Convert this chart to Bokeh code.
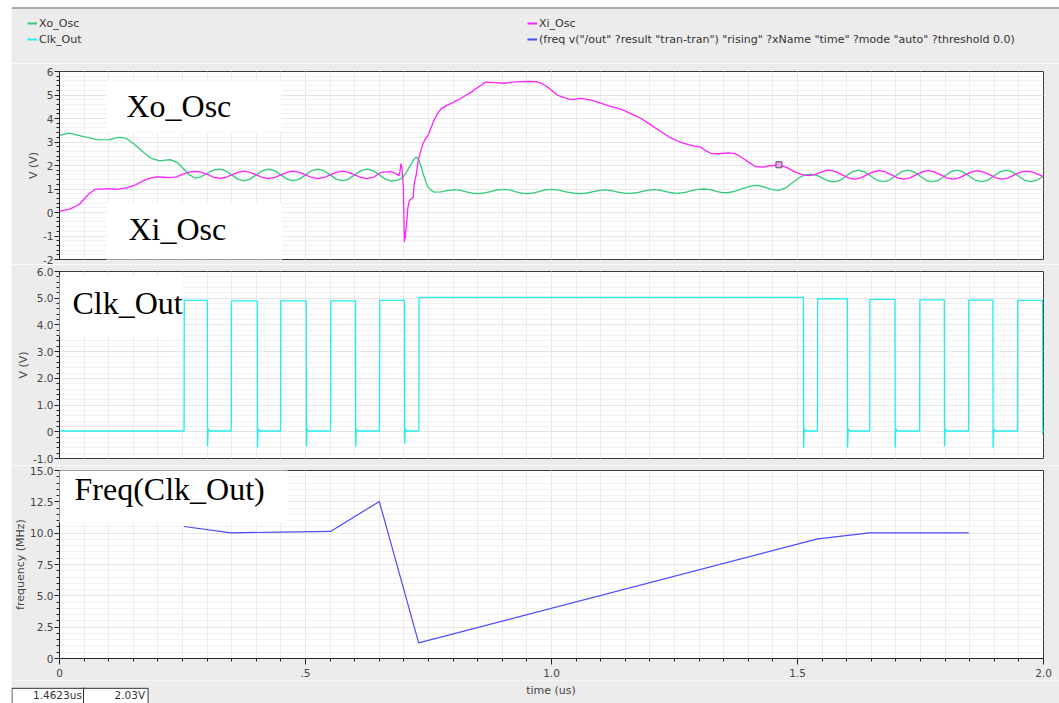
from bokeh.plotting import figure
from bokeh.layouts import column, row
from bokeh.models import Range1d, FixedTicker, Legend, LegendItem, Label, Span, Spacer
from bokeh.embed import file_html
from bokeh.resources import INLINE

# ---------------- data ----------------
# Xo_Osc (green), time in us, volts
xo_t = [0.000, 0.020, 0.045, 0.079, 0.100, 0.120, 0.136, 0.152, 0.171, 0.187, 0.203, 0.225,
        0.240, 0.251, 0.263, 0.276, 0.288, 0.300, 0.313,
        0.325, 0.3375, 0.350, 0.3625, 0.375, 0.3875, 0.400, 0.4125,
        0.425, 0.4375, 0.450, 0.4625, 0.475, 0.4875, 0.500, 0.5125,
        0.525, 0.5375, 0.550, 0.5625, 0.575, 0.5875, 0.600, 0.6125,
        0.625, 0.6375, 0.650, 0.6625, 0.675, 0.688, 0.698, 0.705, 0.711, 0.717, 0.723, 0.727,
        0.731, 0.735, 0.739, 0.744, 0.749, 0.755, 0.761, 0.775, 0.790, 0.802, 0.815, 0.827,
        0.840, 0.851, 0.865, 0.878, 0.891, 0.904, 0.916, 0.928, 0.940, 0.952, 0.964, 0.976,
        0.988, 0.999, 1.014, 1.030, 1.045, 1.060, 1.072, 1.085, 1.098, 1.110, 1.122, 1.135,
        1.148, 1.160, 1.172, 1.185, 1.198, 1.210, 1.222, 1.235, 1.248, 1.260, 1.272, 1.285,
        1.298, 1.310, 1.322, 1.335, 1.347, 1.358, 1.372, 1.388, 1.404, 1.419, 1.433, 1.447,
        1.462, 1.476, 1.492, 1.507, 1.517, 1.527, 1.540, 1.552, 1.563,
        1.574, 1.5865, 1.599, 1.6115, 1.624, 1.6365, 1.649, 1.6615,
        1.674, 1.6865, 1.699, 1.7115, 1.724, 1.7365, 1.749, 1.7615,
        1.774, 1.7865, 1.799, 1.8115, 1.824, 1.8365, 1.849, 1.8615,
        1.874, 1.8865, 1.899, 1.9115, 1.924, 1.9365, 1.949, 1.9615,
        1.974, 1.9865, 2.000]
xo_v = [3.28, 3.38, 3.25, 3.09, 3.10, 3.20, 3.15, 2.90, 2.55, 2.30, 2.20, 2.25,
        2.12, 1.88, 1.62, 1.46, 1.52, 1.66, 1.80,
        1.85, 1.78, 1.60, 1.42, 1.35, 1.42, 1.60, 1.78,
        1.85, 1.78, 1.60, 1.42, 1.35, 1.42, 1.60, 1.78,
        1.85, 1.78, 1.60, 1.42, 1.35, 1.42, 1.60, 1.78,
        1.85, 1.78, 1.60, 1.42, 1.34, 1.38, 1.49, 1.70, 1.93, 2.15, 2.33, 2.35,
        2.20, 1.95, 1.65, 1.35, 1.08, 0.95, 0.87, 0.88, 0.94, 0.97, 0.94, 0.88,
        0.82, 0.80, 0.83, 0.90, 0.96, 0.98, 0.95, 0.88, 0.82, 0.80, 0.83, 0.90,
        0.96, 0.98, 0.95, 0.88, 0.82, 0.80, 0.83, 0.89, 0.94, 0.96, 0.93, 0.87,
        0.82, 0.81, 0.84, 0.90, 0.95, 0.97, 0.94, 0.88, 0.83, 0.82, 0.86, 0.93,
        0.98, 1.00, 0.97, 0.90, 0.85, 0.84, 0.90, 1.02, 1.12, 1.15, 1.08, 0.98,
        0.94, 1.05, 1.30, 1.53, 1.60, 1.63, 1.58, 1.45, 1.34,
        1.30, 1.37, 1.55, 1.73, 1.80, 1.73, 1.55, 1.37,
        1.31, 1.37, 1.55, 1.73, 1.80, 1.73, 1.55, 1.37,
        1.31, 1.37, 1.55, 1.73, 1.80, 1.73, 1.55, 1.37,
        1.31, 1.37, 1.55, 1.73, 1.80, 1.73, 1.55, 1.37,
        1.31, 1.37, 1.55]

# Xi_Osc (magenta)
xi_t = [0.000, 0.020, 0.040, 0.060, 0.072, 0.100, 0.116, 0.136, 0.152, 0.166, 0.182, 0.197,
        0.212, 0.225, 0.238, 0.251, 0.263, 0.276, 0.288, 0.300, 0.313, 0.325,
        0.3375, 0.350, 0.3625, 0.375, 0.3875, 0.400, 0.4125, 0.425,
        0.4375, 0.450, 0.4625, 0.475, 0.4875, 0.500, 0.5125, 0.525,
        0.5375, 0.550, 0.5625, 0.575, 0.5875, 0.600, 0.6125, 0.625,
        0.6375, 0.654, 0.674, 0.684, 0.690, 0.692, 0.694, 0.696, 0.699, 0.701, 0.702, 0.703,
        0.704, 0.705, 0.708, 0.711, 0.719, 0.721, 0.725, 0.729, 0.734, 0.739, 0.744, 0.749,
        0.755, 0.761, 0.768, 0.776, 0.786, 0.796, 0.806, 0.816, 0.827, 0.837, 0.844, 0.851,
        0.859, 0.867, 0.885, 0.904, 0.920, 0.938, 0.955, 0.969, 0.981, 0.993, 1.003, 1.013,
        1.027, 1.040, 1.050, 1.060, 1.080, 1.100, 1.120, 1.141, 1.160, 1.182, 1.200, 1.222,
        1.240, 1.263, 1.285, 1.304, 1.314, 1.324, 1.340, 1.358, 1.370, 1.379, 1.395, 1.415,
        1.430, 1.446, 1.462, 1.480, 1.495, 1.511, 1.522, 1.534, 1.546, 1.556, 1.566,
        1.5785, 1.591, 1.6035, 1.616, 1.6285, 1.641, 1.6535, 1.666,
        1.6785, 1.691, 1.7035, 1.716, 1.7285, 1.741, 1.7535, 1.766,
        1.7785, 1.791, 1.8035, 1.816, 1.8285, 1.841, 1.8535, 1.866,
        1.8785, 1.891, 1.9035, 1.916, 1.9285, 1.941, 1.9535, 1.966,
        1.9785, 1.991, 2.000]
xi_v = [0.06, 0.13, 0.34, 0.80, 0.98, 1.02, 0.98, 1.05, 1.15, 1.30, 1.45, 1.52,
        1.50, 1.48, 1.52, 1.63, 1.72, 1.75, 1.72, 1.63, 1.50, 1.45,
        1.49, 1.60, 1.71, 1.76, 1.71, 1.60, 1.49, 1.44,
        1.49, 1.60, 1.71, 1.76, 1.71, 1.60, 1.49, 1.44,
        1.49, 1.60, 1.71, 1.76, 1.71, 1.60, 1.49, 1.44,
        1.49, 1.71, 1.74, 1.65, 1.57, 1.75, 2.08, 1.90, 1.00, -1.26, -0.80, -1.10,
        -0.70, -0.63, 0.20, 0.51, 0.65, 1.23, 1.60, 2.21, 2.60, 2.94, 3.15, 3.28,
        3.60, 3.91, 4.20, 4.42, 4.55, 4.64, 4.75, 4.85, 5.00, 5.12, 5.24, 5.33,
        5.45, 5.55, 5.53, 5.50, 5.55, 5.57, 5.58, 5.57, 5.48, 5.33, 5.15, 4.98,
        4.88, 4.80, 4.82, 4.86, 4.78, 4.65, 4.52, 4.40, 4.22, 4.00, 3.75, 3.45,
        3.20, 2.98, 2.85, 2.78, 2.62, 2.52, 2.50, 2.54, 2.52, 2.45, 2.22, 1.95,
        1.93, 1.99, 2.03, 1.90, 1.72, 1.60, 1.57, 1.60, 1.70, 1.78, 1.80,
        1.73, 1.60, 1.47, 1.42, 1.47, 1.60, 1.73, 1.78,
        1.73, 1.60, 1.47, 1.42, 1.47, 1.60, 1.73, 1.78,
        1.73, 1.60, 1.47, 1.42, 1.47, 1.60, 1.73, 1.77,
        1.72, 1.60, 1.47, 1.42, 1.47, 1.60, 1.72, 1.76,
        1.72, 1.60, 1.53]

# Clk_Out edges (us) and levels (V)
clk_rise = [0.2532, 0.3492, 0.4493, 0.5509, 0.6504, 0.7304, 1.5405, 1.6467, 1.7482, 1.8477, 1.9472]
clk_fall = [0.3005, 0.4020, 0.5015, 0.6016, 0.7011, 1.5121, 1.6014, 1.6981, 1.7984, 1.8971, 1.9980]
clk_high = [4.92, 4.90, 4.90, 4.90, 4.92, 5.03, 4.98, 4.96, 4.94, 4.93, 4.92]
clk_under = [-0.55, -0.60, -0.55, -0.55, -0.45, -0.60, -0.60, -0.60, -0.55, -0.60, -0.10]
clk_low = 0.03

# frequency of Clk_Out (MHz)
freq_t = [0.253, 0.349, 0.449, 0.551, 0.650, 0.730, 1.541, 1.647, 1.748, 1.848]
freq_v = [10.53, 10.03, 10.08, 10.14, 12.53, 1.25, 9.55, 10.02, 10.02, 10.02]

# cursor readout
cursor_t = [1.4623]
cursor_v = [2.03]

# axis ticks / labels
x_ticks = [0, 0.5, 1.0, 1.5, 2.0]
x_labels = ["0", ".5", "1.0", "1.5", "2.0"]
y1_ticks = [-2, -1, 0, 1, 2, 3, 4, 5, 6]
y1_labels = ["-2", "-1", "0", "1", "2", "3", "4", "5", "6"]
y2_ticks = [-1, 0, 1, 2, 3, 4, 5, 6]
y2_labels = ["-1.0", "0", "1.0", "2.0", "3.0", "4.0", "5.0", "6.0"]
y3_ticks = [0, 2.5, 5, 7.5, 10, 12.5, 15]
y3_labels = ["0", "2.5", "5.0", "7.5", "10.0", "12.5", "15.0"]

# ---------------- clock waveform built from its edges ----------------
clk_t = [0.0]
clk_v = [clk_low]
for r, f, h, u in zip(clk_rise, clk_fall, clk_high, clk_under):
    clk_t += [r, r + 0.0004, f, f + 0.0004, f + 0.0016, f + 0.004]
    clk_v += [clk_low, h, h, u, 0.12, clk_low]
pairs = [(t, v) for t, v in zip(clk_t, clk_v) if t <= 2.0]
clk_t = [p[0] for p in pairs]
clk_v = [p[1] for p in pairs]

# ---------------- styling ----------------
BG = "#ececec"
XO_C = "#33cc77"
XI_C = "#ff22ff"
CLK_C = "#22eeee"
FREQ_C = "#4b4bff"
FONT = "DejaVu Sans"
SERIF = "Liberation Serif"
W = 1048
LEFT = 47
RIGHT = 16
PX_PER_US = 985 / 2.0

xr = Range1d(0, 2)
x_minor = [round(0.05 * i, 2) for i in range(41)]


def style(p, yt, ylab, yminor, ylabel):
    p.background_fill_color = "white"
    p.border_fill_color = BG
    p.outline_line_color = "#3a3a3a"
    p.outline_line_width = 1
    p.yaxis.ticker = FixedTicker(ticks=yt, minor_ticks=yminor)
    p.yaxis.major_label_overrides = {t: l for t, l in zip(yt, ylab)}
    p.yaxis.axis_label = ylabel
    for ax in p.axis:
        ax.axis_line_color = "#222222"
        ax.major_tick_line_color = "#222222"
        ax.minor_tick_line_color = "#222222"
        ax.major_tick_in = 0
        ax.major_tick_out = 5
        ax.minor_tick_in = 0
        ax.minor_tick_out = 3
        ax.major_label_text_font = FONT
        ax.major_label_text_font_size = "10.5px"
        ax.major_label_text_color = "#444444"
        ax.major_label_standoff = 1
        ax.axis_label_text_font = FONT
        ax.axis_label_text_font_size = "11px"
        ax.axis_label_text_font_style = "normal"
        ax.axis_label_text_color = "#444444"
        ax.axis_label_standoff = 0
    xg = p.xgrid[0]
    xg.ticker = FixedTicker(ticks=x_ticks, minor_ticks=x_minor)
    xg.grid_line_color = "#e6e6e6"
    xg.minor_grid_line_color = "#ececec"
    yg = p.ygrid[0]
    yg.ticker = FixedTicker(ticks=yt, minor_ticks=yminor)
    yg.grid_line_color = "#e6e6e6"
    yg.minor_grid_line_color = "#f1f1f1"


def big_label(p, x, y, text, pad):
    p.add_layout(Label(x=x, y=y, text=text, text_font=SERIF, text_font_size="32px",
                       text_color="black", anchor="top_left",
                       background_fill_color="white", padding=pad))


# header with legends (kept out of the plots' frame alignment)
hdr = figure(width=W, height=56, x_range=Range1d(0, 1), y_range=Range1d(0, 1),
             output_backend="svg", toolbar_location=None, min_border=0,
             x_axis_location=None, y_axis_location=None)
hdr.background_fill_color = BG
hdr.border_fill_color = BG
hdr.outline_line_color = None
hdr.grid.visible = False
hdr.add_layout(Span(location=1, dimension="width", line_color="#666666", line_width=2))
off = [-5, -4]
r_xo = hdr.line(off, off, line_color=XO_C, line_width=2)
r_clk = hdr.line(off, off, line_color=CLK_C, line_width=2)
r_xi = hdr.line(off, off, line_color=XI_C, line_width=2)
r_fq = hdr.line(off, off, line_color=FREQ_C, line_width=2)
leg_kw = dict(glyph_width=10, glyph_height=14, label_height=14, label_standoff=2, spacing=2,
              padding=0, margin=0, border_line_color=None, background_fill_alpha=0,
              label_text_font=FONT, label_text_font_size="11px", label_text_color="#333333")
hdr.add_layout(Legend(items=[LegendItem(label="Xo_Osc", renderers=[r_xo]),
                             LegendItem(label="Clk_Out", renderers=[r_clk])],
                      location=(16, 17), **leg_kw))
hdr.add_layout(Legend(items=[LegendItem(label="Xi_Osc", renderers=[r_xi]),
                             LegendItem(label='(freq v("/out" ?result "tran-tran") "rising" ?xName "time" ?mode "auto" ?threshold 0.0)',
                                        renderers=[r_fq])],
                      location=(516, 17), **leg_kw))

# plot 1: oscillator nodes
p1 = figure(width=W, height=201, x_range=xr, y_range=Range1d(-2, 6), output_backend="svg",
            toolbar_location=None, min_border_left=LEFT, min_border_right=RIGHT,
            min_border_top=8, min_border_bottom=5, x_axis_location=None)
style(p1, y1_ticks, y1_labels, [round(-2 + 0.2 * i, 2) for i in range(41)], "V (V)")
big_label(p1, 0.0954, 5.62, "Xo_Osc", dict(left=20, right=50, top=8, bottom=8))
big_label(p1, 0.0954, 0.40, "Xi_Osc", dict(left=22, right=56, top=8, bottom=16))
p1.line(xo_t, xo_v, line_color=XO_C, line_width=1.3)
p1.line(xi_t, xi_v, line_color=XI_C, line_width=1.3)
p1.scatter(cursor_t, cursor_v, marker="square", size=6, fill_color="#ff99ff", line_color="#555555")

# plot 2: clock
p2 = figure(width=W, height=201, x_range=xr, y_range=Range1d(-1, 6), output_backend="svg",
            toolbar_location=None, min_border_left=LEFT, min_border_right=RIGHT,
            min_border_top=7, min_border_bottom=7, x_axis_location=None)
style(p2, y2_ticks, y2_labels, [round(-1 + 0.2 * i, 2) for i in range(36)], "V (V)")
big_label(p2, -0.0102, 5.85, "Clk_Out", dict(left=18, right=0, top=9, bottom=16))
p2.line(clk_t, clk_v, line_color=CLK_C, line_width=1.3)

# plot 3: frequency
p3 = figure(width=W, height=215, x_range=xr, y_range=Range1d(0, 15), output_backend="svg",
            toolbar_location=None, min_border_left=LEFT, min_border_right=RIGHT,
            min_border_top=5, min_border_bottom=22)
style(p3, y3_ticks, y3_labels, [round(0.5 * i, 2) for i in range(31)], "frequency (MHz)")
p3.xaxis.ticker = FixedTicker(ticks=x_ticks, minor_ticks=x_minor)
p3.xaxis.major_label_overrides = {t: l for t, l in zip(x_ticks, x_labels)}
p3.xaxis.major_tick_out = 6
p3.xaxis.major_label_standoff = 4
big_label(p3, -0.0102, 15.08, "Freq(Clk_Out)", dict(left=20, right=23, top=2, bottom=15))
p3.line(freq_t, freq_v, line_color=FREQ_C, line_width=1.2)

# footer: x-axis title and the cursor readout boxes, in the same time units as the plots
ftr = figure(width=W, height=23, x_range=Range1d(-LEFT / PX_PER_US, (W - LEFT) / PX_PER_US),
             y_range=Range1d(0, 1), output_backend="svg", toolbar_location=None, min_border=0,
             x_axis_location=None, y_axis_location=None)
ftr.background_fill_color = BG
ftr.border_fill_color = BG
ftr.outline_line_color = None
ftr.grid.visible = False
ftr.add_layout(Label(x=1.0, y=0.55, text="time (us)", text_font=FONT, text_font_size="11px",
                     text_color="#444444", text_align="center", text_baseline="middle"))
ftr.add_layout(Label(x=-LEFT / PX_PER_US + 0.001, y=0.66, text="%.4fus" % cursor_t[0],
                     text_font=FONT, text_font_size="10.5px", text_color="#333333",
                     anchor="top_left", background_fill_color="white",
                     border_line_color="#333333", border_line_width=1,
                     padding=dict(left=21, right=4, top=1, bottom=4)))
ftr.add_layout(Label(x=0.0508, y=0.66, text="%.2fV" % cursor_v[0],
                     text_font=FONT, text_font_size="10.5px", text_color="#333333",
                     anchor="top_left", background_fill_color="white",
                     border_line_color="#333333", border_line_width=1,
                     padding=dict(left=31, right=3, top=1, bottom=4)))

plots = column(p1, p2, p3, spacing=0)
layout = column(Spacer(height=7),
                row(Spacer(width=11), column(hdr, plots, ftr, spacing=0), spacing=0),
                spacing=0)
open("out.html", "w").write(file_html(layout, INLINE))
